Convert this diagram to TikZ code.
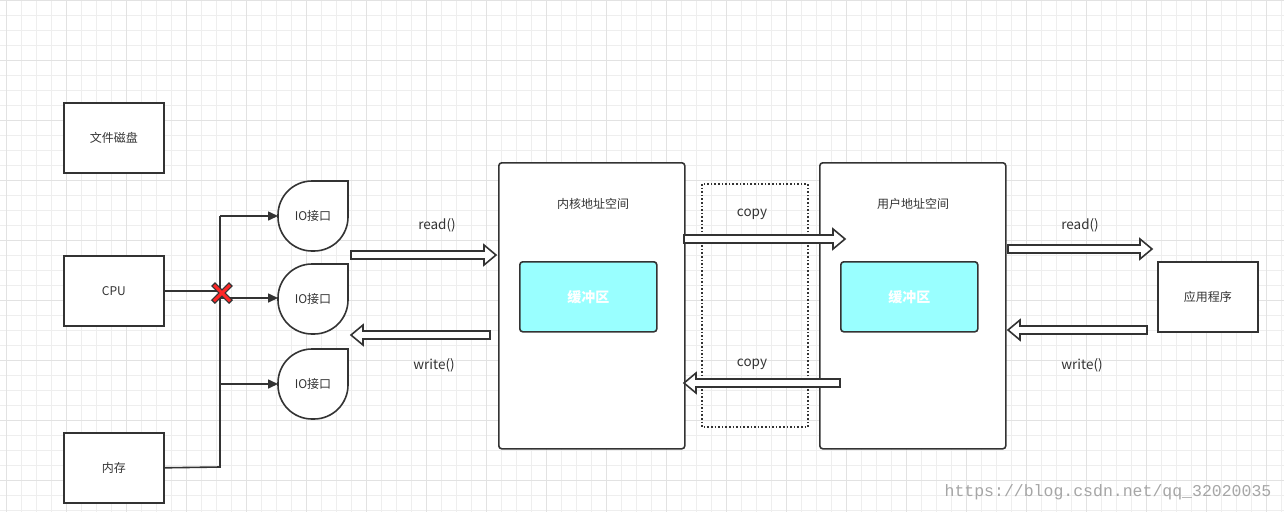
\documentclass[tikz,border=0pt]{standalone}
\usepackage{fontspec}
\setmainfont{Noto Sans CJK SC}
\newfontfamily\wmfont{Liberation Mono}
\usetikzlibrary{calc, arrows.meta}
\definecolor{gridminor}{HTML}{EEEEEE}
\definecolor{gridmajor}{HTML}{E2E2E2}
\definecolor{edge}{HTML}{333333}
\definecolor{bufcyan}{HTML}{99FFFF}
\tikzset{
  box/.style={draw=edge, line width=1.6pt, fill=white, anchor=north west, inner sep=0pt},
  space/.style={box, rounded corners=3pt},
  buf/.style={box, rounded corners=3pt, fill=bufcyan, text=white, font=\fontsize{14pt}{16pt}\selectfont\bfseries},
  lbl/.style={font=\fontsize{13.5pt}{15pt}\selectfont, text=edge},
  small/.style={font=\fontsize{12pt}{14pt}\selectfont, text=edge},
  wire/.style={draw=edge, line width=1.6pt},
  link/.style={wire, -{Triangle[length=10pt, width=9pt]}},
  hollow/.style={draw=edge, line width=1.6pt, fill=white, line join=miter},
}
% horizontal hollow block arrow from #1 to #2 (same y)
\newcommand\blockarrow[2]{%
  \draw[hollow] let \p1=(#1), \p2=(#2), \n1={(\x2>\x1)?1:-1} in
    (\x1,\y1+4pt) -- (\x2-\n1*12pt,\y1+4pt) -- (\x2-\n1*12pt,\y1+10pt) --
    (\x2,\y1) -- (\x2-\n1*12pt,\y1-10pt) -- (\x2-\n1*12pt,\y1-4pt) --
    (\x1,\y1-4pt) -- cycle;}
\begin{document}
\begin{tikzpicture}[x=1pt, y=-1pt]
\useasboundingbox (0,0) rectangle (1284,512);
\fill[white] (0,0) rectangle (1284,512);
% grid
\foreach \x in {6,21,...,1284} \draw[gridminor, line width=0.8pt] (\x,0) -- (\x,512);
\foreach \y in {0,15,...,512} \draw[gridminor, line width=0.8pt] (0,\y) -- (1284,\y);
\foreach \x in {6,66,...,1284} \draw[gridmajor, line width=0.8pt] (\x,0) -- (\x,512);
\foreach \y in {0,60,...,512} \draw[gridmajor, line width=0.8pt] (0,\y) -- (1284,\y);

% left boxes
\node[box, minimum width=100pt, minimum height=70pt, small] (disk) at (63,102) {文件磁盘};
\node[box, minimum width=100pt, minimum height=70pt, small] (cpu) at (63,255) {CPU};
\node[box, minimum width=100pt, minimum height=70pt, small] (mem) at (63,432) {内存};

% IO interface shapes
\foreach \n/\y in {1/181, 2/264, 3/349} {
  \draw[wire, fill=white, rounded corners=34pt] (313,\y) -- (278,\y) -- (278,\y+70)
    -- (348,\y+70) [sharp corners] -- (348,\y) -- cycle;
  \node[small, inner sep=0pt] (io\n) at (313,\y+35) {IO接口};
}
\coordinate (io1w) at (278,216);
\coordinate (io2w) at (278,298);
\coordinate (io3w) at (278,384);
\coordinate (bus1) at (220,216);
\coordinate (bus2) at (220,298);
\coordinate (bus3) at (220,384);
\coordinate (busb) at (220,467);
\draw[wire] (cpu.east) -- (cpu.east -| bus1);
\draw[wire] (mem.east) -- (busb) -- (bus1);
\draw[link] (bus1) -- (io1w);
\draw[link] (bus2) -- (io2w);
\draw[link] (bus3) -- (io3w);
% red cross
\draw[edge, line width=5.5pt, line cap=butt] (213,284) -- (231,302) (231,284) -- (213,302);
\draw[red!85!white, line width=3pt] (214,285) -- (230,301) (230,285) -- (214,301);

% address spaces
\node[space, minimum width=186pt, minimum height=286pt] (kern) at (498,162) {};
\node[small] (kernt) at (593,204) {内核地址空间};
\node[buf, minimum width=137pt, minimum height=70pt] (kbuf) at (519,261) {缓冲区};
\draw[edge, line width=1.6pt, dotted] (702,184) rectangle (808,427);
\node[space, minimum width=186pt, minimum height=286pt] (user) at (819,162) {};
\node[small] (usert) at (913,204) {用户地址空间};
\node[buf, minimum width=137pt, minimum height=70pt] (ubuf) at (840,261) {缓冲区};
\node[box, minimum width=100pt, minimum height=70pt, small] (app) at (1157,261) {应用程序};

% block arrows
\coordinate (r1a) at (351,255); \coordinate (r1b) at (496,255);
\coordinate (w1a) at (490,335); \coordinate (w1b) at (351,335);
\coordinate (c1a) at (684,239); \coordinate (c1b) at (845,239);
\coordinate (c2a) at (840,383); \coordinate (c2b) at (684,383);
\coordinate (r2a) at (1008,249); \coordinate (r2b) at (1152,249);
\coordinate (w2a) at (1147,330); \coordinate (w2b) at (1008,330);
\blockarrow{r1a}{r1b}
\blockarrow{w1a}{w1b}
\blockarrow{c1a}{c1b}
\blockarrow{c2a}{c2b}
\blockarrow{r2a}{r2b}
\blockarrow{w2a}{w2b}
\node[lbl] (l1) at (437,225) {read()};
\node[lbl] (l2) at (434,365) {write()};
\node[lbl] (l3) at (752,214) {copy};
\node[lbl] (l4) at (752,364) {copy};
\node[lbl] (l5) at (1080,225) {read()};
\node[lbl] (l6) at (1082,365) {write()};

% watermark
\node[font=\wmfont\fontsize{16.5pt}{18pt}\selectfont, text=black!35] (wm) at (1108,492) {https://blog.csdn.net/qq\_32020035};
\end{tikzpicture}
\end{document}
